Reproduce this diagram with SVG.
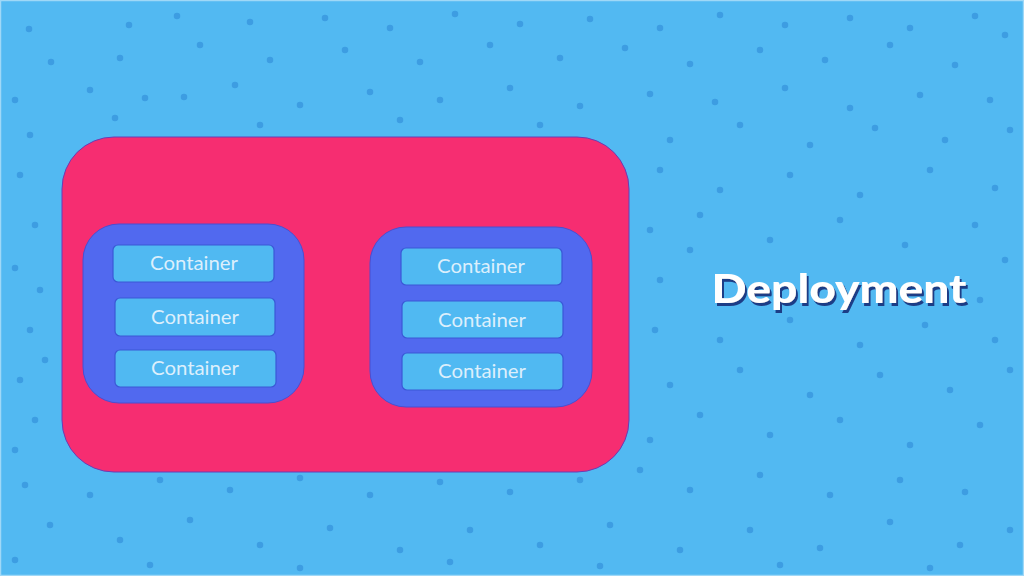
<svg xmlns="http://www.w3.org/2000/svg" width="1024" height="576" viewBox="0 0 1024 576">
<style>
.pod{fill:#5169EF;stroke:#4a4fd0;stroke-width:1}
.ctr{fill:#50B9F2;stroke:#3A58D6;stroke-width:1.2}
.ct{font-family:Lato,"Open Sans",sans-serif;font-size:19px;fill:#DCEFFC;text-anchor:middle}
.dep{font-family:Lato,"Open Sans",sans-serif;font-weight:900;font-size:39px;text-anchor:middle}
</style>
<defs>
<filter id="shadow" x="-10%" y="-30%" width="120%" height="160%">
<feDropShadow dx="2" dy="3" stdDeviation="0.4" flood-color="#1E3C86" flood-opacity="1"/>
</filter>
</defs>
<rect x="0" y="0" width="1024" height="576" fill="#52B9F2"/>
<rect x="0.5" y="0.5" width="1023" height="575" fill="none" stroke="#9fd8f7" stroke-width="1.5"/>
<path fill="none" stroke="#3D9DE2" stroke-width="6.5" stroke-linecap="round" d="M29 29h0M129 25h0M177 16h0M250 22h0M325 18h0M390 28h0M455 14h0M520 24h0M590 19h0M660 28h0M720 15h0M785 25h0M850 18h0M910 28h0M975 16h0M1005 35h0M51 62h0M120 58h0M200 45h0M270 60h0M345 50h0M420 62h0M490 45h0M560 58h0M625 48h0M690 64h0M760 50h0M825 60h0M890 45h0M955 65h0M15 100h0M90 90h0M145 98h0M184 97h0M235 85h0M300 105h0M370 92h0M440 100h0M510 88h0M580 106h0M650 94h0M715 102h0M785 88h0M850 108h0M920 95h0M990 100h0M30 135h0M115 118h0M260 125h0M400 120h0M540 125h0M670 140h0M740 125h0M810 145h0M875 128h0M945 140h0M1010 130h0M20 175h0M660 170h0M720 190h0M790 175h0M860 195h0M930 170h0M995 188h0M35 225h0M650 230h0M700 215h0M770 240h0M840 220h0M905 245h0M975 225h0M15 268h0M40 290h0M660 280h0M690 250h0M980 300h0M1005 260h0M30 330h0M655 330h0M720 340h0M790 320h0M860 345h0M925 325h0M995 340h0M20 380h0M45 360h0M670 385h0M740 370h0M810 395h0M880 375h0M950 390h0M1010 370h0M35 420h0M15 450h0M650 440h0M700 415h0M770 435h0M840 420h0M910 445h0M980 425h0M25 485h0M90 495h0M160 480h0M230 490h0M300 478h0M370 495h0M440 482h0M510 492h0M580 480h0M640 470h0M690 490h0M760 475h0M830 495h0M900 480h0M965 492h0M50 525h0M120 540h0M190 520h0M260 545h0M330 528h0M400 550h0M470 530h0M540 545h0M610 525h0M680 550h0M750 530h0M820 548h0M890 522h0M960 545h0M1010 530h0M15 560h0M150 565h0M300 568h0M450 562h0M600 566h0M780 565h0M930 568h0"/>
<g id="deployment-box">
<rect x="62" y="137" width="567" height="335" rx="52" fill="#F62D71" stroke="#6a3db5" stroke-width="1"/>
</g>
<g id="pod-left">
<rect class="pod" x="83" y="224" width="221" height="179" rx="36"/>
</g>
<g id="pod-right">
<rect class="pod" x="370" y="227" width="222" height="180" rx="36"/>
</g>
<g id="c1"><rect class="ctr" x="113" y="245" width="161" height="37" rx="5"/><text class="ct" x="194" y="270" textLength="88" lengthAdjust="spacingAndGlyphs">Container</text></g>
<g id="c2"><rect class="ctr" x="115" y="298" width="160" height="38" rx="5"/><text class="ct" x="195" y="324" textLength="88" lengthAdjust="spacingAndGlyphs">Container</text></g>
<g id="c3"><rect class="ctr" x="115" y="350" width="161" height="37" rx="5"/><text class="ct" x="195" y="375" textLength="88" lengthAdjust="spacingAndGlyphs">Container</text></g>
<g id="c4"><rect class="ctr" x="401" y="248" width="161" height="37" rx="5"/><text class="ct" x="481" y="273" textLength="88" lengthAdjust="spacingAndGlyphs">Container</text></g>
<g id="c5"><rect class="ctr" x="402" y="301" width="161" height="37" rx="5"/><text class="ct" x="482" y="327" textLength="88" lengthAdjust="spacingAndGlyphs">Container</text></g>
<g id="c6"><rect class="ctr" x="402" y="353" width="161" height="37" rx="5"/><text class="ct" x="482" y="378" textLength="88" lengthAdjust="spacingAndGlyphs">Container</text></g>
<g id="label">
<text class="dep" x="839" y="303" fill="#FFFFFF" filter="url(#shadow)" textLength="255" lengthAdjust="spacingAndGlyphs">Deployment</text>
</g>
<g id="connectors"></g>
</svg>
